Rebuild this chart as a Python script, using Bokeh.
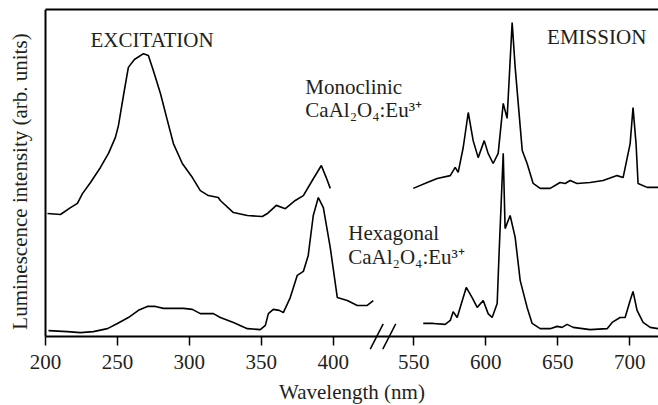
import math
from bokeh.plotting import figure
from bokeh.models import FixedTicker, LinearAxis, ColumnDataSource, Label, Range1d
from bokeh.transform import dodge
from bokeh.embed import file_html
from bokeh.resources import INLINE

# ---------------- data ----------------
# Excitation spectra (wavelength in nm, intensity in arb. units)
exc_mono_wl = [201.4, 210.4, 217.4, 222.2, 225.7, 231.3, 238.2, 243.8, 248.6, 250.7,
               254.2, 257.6, 261.8, 268.1, 271.5, 275.0, 279.9, 284.7, 288.9, 295.1,
               302.1, 307.6, 313.2, 320.1, 321.5, 330.6, 340.3, 350.7, 354.2, 360.4,
               366.7, 373.6, 379.2, 385.4, 391.7, 395.1, 397.9]
exc_mono_i = [37.6, 37.3, 39.4, 40.7, 43.7, 47.1, 51.7, 56.0, 60.9, 64.5,
              73.7, 82.3, 84.7, 86.5, 85.9, 81.3, 74.3, 66.1, 59.0, 52.9,
              48.6, 44.6, 43.1, 42.5, 41.6, 37.9, 37.0, 36.7, 37.6, 40.1,
              39.1, 41.6, 43.1, 47.7, 52.3, 48.6, 45.3]

exc_hex_wl = [202.1, 215.3, 224.3, 233.3, 243.1, 250.0, 257.6, 264.6, 270.8, 276.4,
              281.9, 295.8, 302.1, 307.6, 316.7, 321.5, 330.6, 340.3, 349.3, 352.8,
              354.9, 358.3, 362.5, 365.3, 370.1, 375.0, 379.2, 382.6, 386.1, 389.6,
              393.1, 397.9, 402.8, 409.7, 416.7, 423.6, 427.8]
exc_hex_i = [1.8, 1.5, 1.2, 1.5, 2.4, 4.0, 5.8, 8.0, 9.2, 9.2,
             8.6, 8.6, 8.3, 7.0, 7.0, 5.8, 4.3, 2.4, 2.1, 3.4,
             7.0, 8.3, 8.0, 7.3, 11.9, 18.7, 19.9, 24.8, 37.0, 42.5,
             39.4, 27.2, 11.9, 11.0, 9.5, 9.5, 11.0]

# Emission spectra
em_mono_wl = [549.6, 559.3, 566.2, 575.3, 578.7, 580.8, 584.3, 587.8, 591.2, 594.7,
              598.9, 601.6, 605.1, 608.6, 612.1, 614.8, 618.3, 620.4, 625.3, 628.7,
              632.9, 637.8, 644.7, 651.6, 655.1, 658.6, 663.4, 672.5, 681.5, 691.2,
              695.4, 700.3, 702.3, 704.4, 705.8, 712.1, 719.7]
em_mono_i = [45.3, 47.1, 48.3, 49.2, 51.7, 50.2, 57.8, 68.5, 59.9, 54.7,
             59.9, 56.0, 52.9, 56.0, 71.3, 66.7, 96.0, 82.3, 56.9, 52.9,
             46.8, 45.3, 45.3, 47.1, 46.8, 47.7, 46.8, 47.1, 47.7, 49.2,
             48.6, 59.0, 70.0, 59.0, 46.8, 45.6, 45.6]

em_hex_wl = [556.5, 563.4, 571.8, 575.3, 577.3, 580.1, 582.2, 586.4, 590.5, 594.0,
             598.2, 601.6, 604.4, 607.9, 609.3, 612.1, 613.4, 616.9, 620.4, 623.9,
             628.7, 632.2, 637.8, 644.7, 649.6, 653.0, 656.5, 660.7, 672.5, 684.3,
             687.8, 693.3, 696.8, 700.3, 702.3, 705.1, 709.3, 714.2, 719.7]
em_hex_i = [4.0, 4.0, 3.7, 4.9, 7.6, 5.8, 8.9, 15.0, 11.9, 8.9,
            11.0, 7.0, 5.8, 10.1, 26.3, 56.0, 33.0, 37.0, 30.3, 17.1,
            8.9, 4.0, 2.4, 2.4, 3.1, 2.8, 3.7, 2.8, 2.1, 2.4,
            4.3, 5.8, 5.8, 11.0, 13.8, 8.0, 4.3, 2.8, 2.4]

exc_ticks = [200, 250, 300, 350, 400]
em_ticks = [550, 600, 650, 700]

EMISSION_SHIFT = 94           # nm cut out of the axis at the break
BREAK_MARKS = [430.2, 438.9]  # axis positions of the two break slashes
X_START, X_END = 200, 720 - EMISSION_SHIFT

FONT = "Liberation Serif"
FS = "21px"
TEXT_COLOR = "#231f20"

# ---------------- figure ----------------
# the frame fills the page; both axes are fixed inside it
p = figure(width=658, height=405, output_backend="svg", toolbar_location=None,
           x_range=Range1d(168.75, X_END), y_range=Range1d(-21.1, 100),
           min_border_left=0, min_border_right=0, min_border_top=9,
           min_border_bottom=0)
p.outline_line_color = None
p.grid.visible = False
p.background_fill_color = "white"

# curves
for wl, inten in [(exc_mono_wl, exc_mono_i), (exc_hex_wl, exc_hex_i)]:
    p.line(wl, inten, line_color="black", line_width=1.6)

for wl, inten in [(em_mono_wl, em_mono_i), (em_hex_wl, em_hex_i)]:
    src = ColumnDataSource(dict(wl=wl, i=inten))
    p.line(x=dodge("wl", -EMISSION_SHIFT), y="i", source=src,
           line_color="black", line_width=1.6)

# x axis, fixed on intensity 0
xax = p.xaxis[0]
xax.fixed_location = 0
xax.bounds = (X_START, X_END)
ticks = exc_ticks + [t - EMISSION_SHIFT for t in em_ticks]
xax.ticker = FixedTicker(ticks=ticks)
xax.major_label_overrides = {t - EMISSION_SHIFT: str(t) for t in em_ticks}
xax.minor_tick_line_color = None
xax.major_tick_in = 0
xax.major_tick_out = 9
xax.major_tick_line_width = 1.5
xax.axis_line_width = 2
xax.major_label_text_font = FONT
xax.major_label_text_font_size = FS
xax.major_label_text_color = TEXT_COLOR
xax.major_label_standoff = 9
xax.axis_label = "Wavelength (nm)"
xax.axis_label_text_font = FONT
xax.axis_label_text_font_size = FS
xax.axis_label_text_font_style = "normal"
xax.axis_label_text_color = TEXT_COLOR
xax.axis_label_standoff = 8

# axis break marks (two short slashes across the x axis)
p.segment(x0=[b - 4.5 for b in BREAK_MARKS], y0=[-3.85] * 2,
          x1=[b + 4.5 for b in BREAK_MARKS], y1=[3.85] * 2,
          line_color="black", line_width=1.5)

# y axis: bare line at 200 nm (one invisible tick so the line is drawn)
yax = p.yaxis[0]
yax.fixed_location = X_START
yax.bounds = (0, 100)
yax.ticker = FixedTicker(ticks=[50])
yax.major_label_overrides = {50: ""}
yax.major_label_text_font_size = "0px"
yax.major_label_standoff = 0
yax.major_tick_out = 0
yax.major_tick_in = 0
yax.major_tick_line_color = None
yax.minor_tick_line_color = None
yax.axis_line_width = 2

# y-axis title
p.add_layout(Label(x=182.6, y=47.4, text="Luminescence intensity (arb. units)",
                   angle=math.pi / 2, text_align="center", text_baseline="middle",
                   text_font=FONT, text_font_size=FS, text_color=TEXT_COLOR))

# top border line
top = LinearAxis(bounds=(X_START, X_END),
                 ticker=FixedTicker(ticks=[300]), major_label_overrides={300: ""},
                 major_label_text_font_size="0px", major_label_standoff=0,
                 major_tick_out=0, major_tick_in=0,
                 major_tick_line_color=None, minor_tick_line_color=None,
                 axis_line_width=2)
p.add_layout(top, "above")

# texts
def lab(x, y, t):
    p.add_layout(Label(x=x, y=y, text=t, text_font=FONT, text_font_size=FS,
                       text_color=TEXT_COLOR, text_baseline="alphabetic"))

lab(231.3, 90.8, "EXCITATION")
lab(548.6, 91.7, "EMISSION")
lab(380.6, 76.3, "Monoclinic")
lab(380.6, 69.4, "CaAl₂O₄:Eu³⁺")
lab(410.4, 31.6, "Hexagonal")
lab(410.4, 24.2, "CaAl₂O₄:Eu³⁺")

open("out.html", "w").write(file_html(p, INLINE))
